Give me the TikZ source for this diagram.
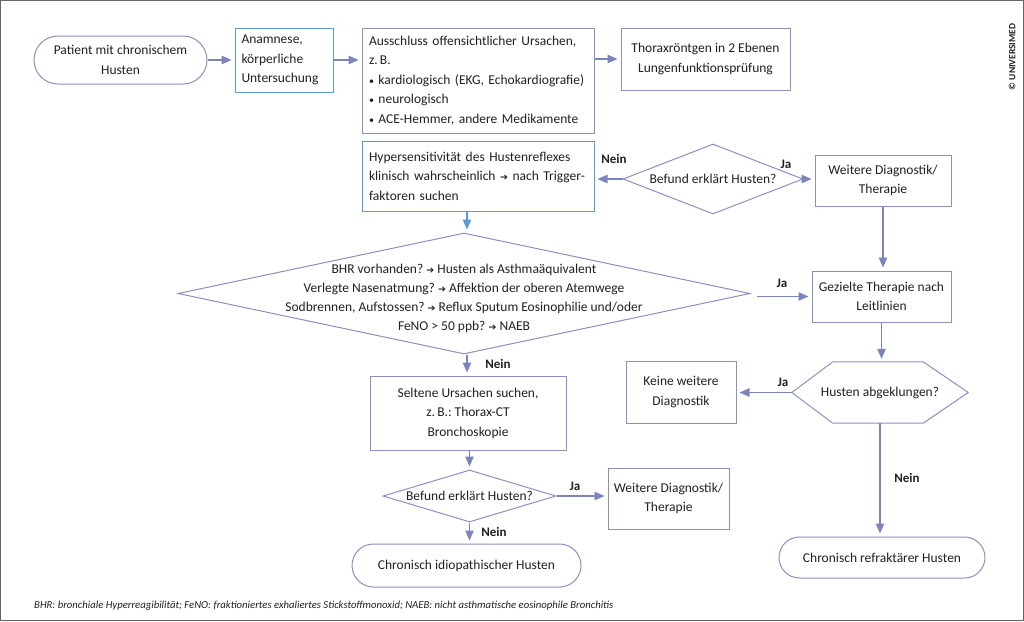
\documentclass[tikz,border=0pt]{standalone}
\usepackage{fontspec}
\setmainfont{Carlito}
\newfontfamily\arrowfont{DejaVu Sans}
\usetikzlibrary{shapes.geometric,arrows.meta}
\definecolor{lav}{HTML}{8A90C2}
\definecolor{blu}{HTML}{5B9BD5}
\definecolor{arr}{HTML}{7C84BC}
\definecolor{txt}{HTML}{231F20}
\newcommand{\ra}{{\arrowfont\fontsize{9.5}{9.5}\selectfont\raisebox{0.3pt}{➔}}}
\newcommand{\bul}{{\fontsize{10}{10}\selectfont•}}
\tikzset{
  base/.style={text=txt, font=\frenchspacing\fontsize{13.5}{19.5}\selectfont, inner sep=0pt},
  box/.style={base, draw=lav, line width=1pt, rectangle, align=center},
  bluebox/.style={box, draw=blu},
  lbox/.style={align=left},
  stadium/.style={base, draw=lav, line width=1pt, rectangle, align=center},
  dia/.style={draw=lav, line width=1pt, diamond, inner sep=0pt},
  ghost/.style={rectangle, inner sep=0pt},
  txtnode/.style={base, align=center},
  conn/.style={draw=arr, line width=1.2pt, -{Triangle[length=10pt,width=8.5pt]}, shorten >=3pt},
  lab/.style={text=txt, font=\bfseries\fontsize{13}{14}\selectfont, inner sep=0pt},
}
\begin{document}
\begin{tikzpicture}[x=1pt,y=-1pt]
\useasboundingbox (0,0) rectangle (1024,621);
\draw[draw=gray!80!black, line width=1pt] (0.5,0.5) rectangle (1023.5,620.5);

% top row
\node[stadium, rounded corners=24pt, minimum width=173pt, minimum height=48pt] (start) at (120.5,60) {Patient mit chronischem\\Husten};
\node[bluebox, lbox, minimum width=98pt, minimum height=64pt, text width=85pt] (anam) at (284,60) {Anamnese,\\körperliche\\Untersuchung};
\node[box, lbox, minimum width=232pt, minimum height=105pt, text width=218pt] (aus) at (478,80.5) {Ausschluss offensichtlicher Ursachen,\\z.\,B.\\\bul{} kardiologisch (EKG, Echokardiografie)\\\bul{} neurologisch\\\bul{} ACE-Hemmer, andere Medikamente};
\node[box, minimum width=169pt, minimum height=62pt] (thorax) at (705.5,59) {Thoraxröntgen in 2 Ebenen\\Lungenfunktionsprüfung};

% second row
\node[bluebox, lbox, minimum width=232pt, minimum height=70pt, text width=218pt] (hyper) at (478,176) {Hypersensitivität des Hustenreflexes\\klinisch wahrscheinlich \ra{} nach Trigger-\\faktoren suchen};
\node[dia, minimum width=180pt, minimum height=70pt] (d1) at (713,179) {};
\node[txtnode] (d1t) at (d1.center) {Befund erklärt Husten?};
\node[box, minimum width=136pt, minimum height=51pt] (wd1) at (883,180.5) {Weitere Diagnostik/\\Therapie};

% big decision
\node[dia, minimum width=572pt, minimum height=121pt] (big) at (464,293.5) {};
\node[txtnode, font=\frenchspacing\fontsize{13.5}{18.8}\selectfont] (bigt) at ([yshift=-5pt]big.center) {BHR vorhanden? \ra{} Husten als Asthmaäquivalent\\Verlegte Nasenatmung? \ra{} Affektion der oberen Atemwege\\Sodbrennen, Aufstossen? \ra{} Reflux Sputum Eosinophilie und/oder\\FeNO > 50 ppb? \ra{} NAEB};
\node[box, minimum width=139pt, minimum height=51pt] (gez) at (881.5,296.5) {Gezielte Therapie nach\\Leitlinien};

% hexagon
\node[ghost, minimum width=176pt, minimum height=61pt] (hex) at (880,392.5) {};
\draw[draw=lav, line width=1pt] (hex.west) -- ([xshift=41pt]hex.north west) -- ([xshift=-45pt]hex.north east) -- (hex.east) -- ([xshift=-45pt]hex.south east) -- ([xshift=41pt]hex.south west) -- cycle;
\node[txtnode] (hext) at (hex.center) {Husten abgeklungen?};
\node[box, minimum width=110pt, minimum height=62pt] (keine) at (681,392) {Keine weitere\\Diagnostik};
\node[stadium, rounded corners=20.5pt, minimum width=206pt, minimum height=41pt] (refr) at (882,557.5) {Chronisch refraktärer Husten};

% lower left
\node[box, minimum width=196pt, minimum height=74pt] (selt) at (468,413) {Seltene Ursachen suchen,\\z.\,B.: Thorax-CT\\Bronchoskopie};
\node[dia, minimum width=173pt, minimum height=52pt] (d2) at (469.5,496) {};
\node[txtnode] (d2t) at (d2.center) {Befund erklärt Husten?};
\node[box, minimum width=121pt, minimum height=61pt] (wd2) at (668.5,498.5) {Weitere Diagnostik/\\Therapie};
\node[stadium, rounded corners=21.5pt, minimum width=229pt, minimum height=43pt] (idio) at (466.5,565.5) {Chronisch idiopathischer Husten};

% connectors
\draw[conn] (start.east) -- (start.east -| anam.west);
\draw[conn] (anam.east) -- (anam.east -| aus.west);
\draw[conn] (aus.east |- thorax.west) -- (thorax.west);
\draw[conn] (d1.west) -- (d1.west -| hyper.east);
\draw[conn] (d1.east) -- (d1.east -| wd1.west);
\draw[conn, draw=blu] ([xshift=3pt]big.north |- hyper.south) -- ([xshift=3pt]big.north);
\draw[conn] ([xshift=6pt]big.east |- gez.west) -- (gez.west);
\draw[conn] (wd1.south) -- (wd1.south |- gez.north);
\draw[conn] (gez.south) -- (gez.south |- hex.north);
\draw[conn] (hex.west) -- (hex.west -| keine.east);
\draw[conn] (hex.south) -- (hex.south |- refr.north);
\draw[conn] ([xshift=3pt]big.south) -- ([xshift=3pt]big.south |- selt.north);
\draw[conn] (d2.north |- selt.south) -- (d2.north);
\draw[conn] (d2.east) -- (d2.east -| wd2.west);
\draw[conn] (d2.south) -- (d2.south |- idio.north);

% labels
\node[lab] (l1) at (614,159) {Nein};
\node[lab] (l2) at (786,164) {Ja};
\node[lab] (l3) at (782,283) {Ja};
\node[lab] (l4) at (783,382) {Ja};
\node[lab] (l5) at (498,364) {Nein};
\node[lab] (l6) at (907,478) {Nein};
\node[lab] (l7) at (575,486) {Ja};
\node[lab] (l8) at (494,532) {Nein};

% footnote and copyright
\node[anchor=west, text=txt, font=\itshape\fontsize{10.7}{12}\selectfont, inner sep=0pt] (foot) at (34,606) {BHR: bronchiale Hyperreagibilität; FeNO: fraktioniertes exhaliertes Stickstoffmonoxid; NAEB: nicht asthmatische eosinophile Bronchitis};
\node[rotate=90, text=txt, font=\bfseries\fontsize{9.5}{10}\selectfont, inner sep=0pt] (copy) at (1012,57) {© UNIVERSIMED};
\end{tikzpicture}
\end{document}
